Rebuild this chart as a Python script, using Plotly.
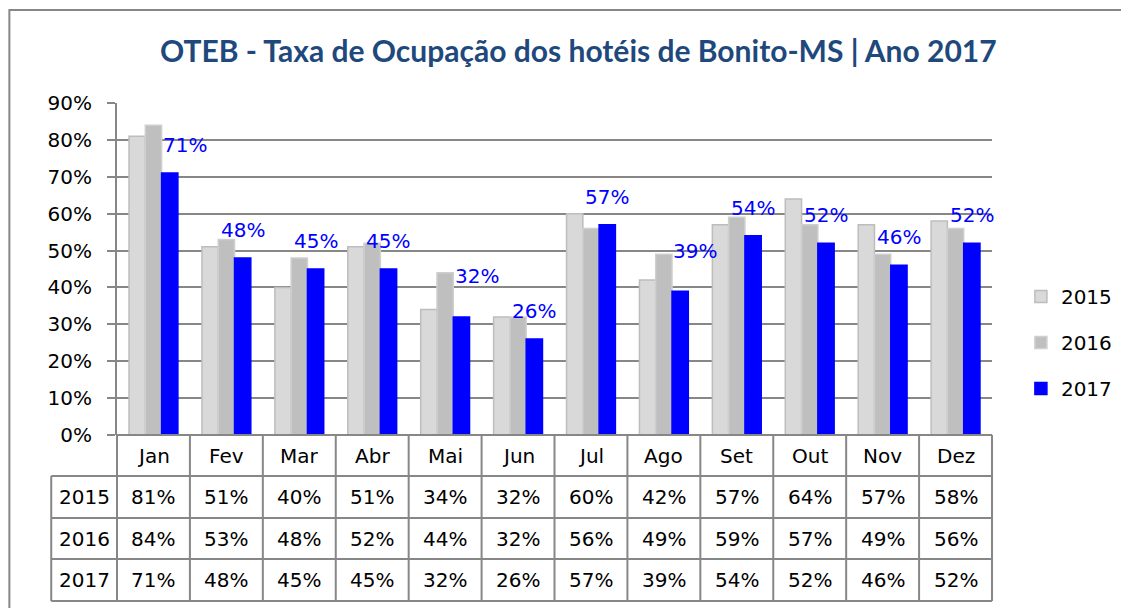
import plotly.graph_objects as go

months = ["Jan", "Fev", "Mar", "Abr", "Mai", "Jun", "Jul", "Ago", "Set", "Out", "Nov", "Dez"]
years = ["2015", "2016", "2017"]
taxa_2015 = [81, 51, 40, 51, 34, 32, 60, 42, 57, 64, 57, 58]
taxa_2016 = [84, 53, 48, 52, 44, 32, 56, 49, 59, 57, 49, 56]
taxa_2017 = [71, 48, 45, 45, 32, 26, 57, 39, 54, 52, 46, 52]
series = [taxa_2015, taxa_2016, taxa_2017]

title = "OTEB - Taxa de Ocupação dos hotéis de Bonito-MS | Ano 2017"

# styling -- positions below are screen pixels; the page body adds an 8px margin
OFF = 8
W, H = 1129 - OFF, 608 - OFF
L, T = 117 - OFF, 103 - OFF
R, B = W - (995 - OFF), H - (435 - OFF)
PW, PH = W - L - R, H - T - B
fills = ["#d9d9d9", "#bfbfbf", "#0000ff"]
edges = ["#bdbdbd", "#cfcfcf", "#0000ff"]
grid = "#878787"
navy = "#1f497d"
txt = "DejaVu Sans"
BARGAP = 0.33
# manual nudges (px) of some 2017 labels, as in the original sheet
nudge = {"Jan": (15, 0), "Mai": (16, 13), "Ago": (15, 12)}


def px(x):
    return (x - OFF - L) / PW


def py(y):
    return (H - B - (y - OFF)) / PH


fig = go.Figure()
for name, vals, f, e in zip(years, series, fills, edges):
    fig.add_trace(go.Bar(
        x=months, y=vals, name=name, legendgroup=name,
        marker=dict(color=f, line=dict(color=e, width=1.5)),
    ))

shapes = []
annots = []

# 2017 labels above the blue bars
off = (1 - BARGAP) / 3
for i, (m, v) in enumerate(zip(months, taxa_2017)):
    dx, dy = nudge.get(m, (0, 0))
    annots.append(dict(
        x=i + off, y=v, xref="x", yref="y", text=f"{v}%", showarrow=False,
        xanchor="center", yanchor="middle", xshift=dx, yshift=28 + dy,
        font=dict(family=txt, size=20, color="#0000ff"),
    ))

# data table under the chart
row_px = [435, 476, 518, 559, 601]
left_col = 51
line = dict(color=grid, width=2)
for k, ypx in enumerate(row_px):
    x0 = 117 if k == 0 else left_col
    shapes.append(dict(type="line", xref="paper", yref="paper",
                       x0=px(x0), x1=1, y0=py(ypx), y1=py(ypx), line=line))
for i in range(len(months) + 1):
    shapes.append(dict(type="line", xref="paper", yref="paper",
                       x0=i / len(months), x1=i / len(months),
                       y0=py(row_px[0]), y1=py(row_px[-1]), line=line))
shapes.append(dict(type="line", xref="paper", yref="paper",
                   x0=px(left_col), x1=px(left_col),
                   y0=py(row_px[1]), y1=py(row_px[-1]), line=line))

cell_font = dict(family=txt, size=20, color="black")
cell = dict(xref="paper", yref="paper", showarrow=False, xanchor="center",
            yanchor="middle", font=cell_font)
for i, m in enumerate(months):
    xc = (i + 0.5) / len(months)
    annots.append(dict(cell, x=xc, y=py((row_px[0] + row_px[1]) / 2), text=m))
    for r, vals in enumerate(series):
        yc = py((row_px[r + 1] + row_px[r + 2]) / 2)
        annots.append(dict(cell, x=xc, y=yc, text=f"{vals[i]}%"))
for r, name in enumerate(years):
    yc = py((row_px[r + 1] + row_px[r + 2]) / 2)
    annots.append(dict(cell, x=px((left_col + 117) / 2), y=yc, text=name))

# title
annots.append(dict(x=px(580), y=py(50), xref="paper", yref="paper", text=f"<b>{title}</b>",
                   showarrow=False, xanchor="center", yanchor="middle",
                   font=dict(family="Lato", size=30, color=navy)))

# outer frame
shapes.append(dict(type="rect", xref="paper", yref="paper", x0=px(9), x1=px(1140),
                   y0=py(620), y1=py(10), line=dict(color=grid, width=2)))

fig.update_layout(
    width=W, height=H, margin=dict(l=L, r=R, t=T, b=B),
    paper_bgcolor="white", plot_bgcolor="white",
    barmode="group", bargap=BARGAP, bargroupgap=0,
    shapes=shapes, annotations=annots,
    legend=dict(x=px(1024), y=py(277), xanchor="left", yanchor="top",
                font=dict(family=txt, size=20, color="black"), tracegroupgap=17,
                itemwidth=30),
    showlegend=True,
)
fig.update_xaxes(showticklabels=False, ticks="", showgrid=False, showline=False,
                 range=[-0.5, 11.5])
fig.update_yaxes(range=[0, 90], dtick=10, ticksuffix="%", showgrid=True, gridcolor=grid,
                 gridwidth=2, zeroline=False, showline=True, linecolor=grid, linewidth=2,
                 ticks="outside", ticklen=8, tickcolor=grid, tickwidth=2,
                 ticklabelstandoff=11, tickfont=dict(family=txt, size=20, color="black"))

fig.write_html("out.html")
